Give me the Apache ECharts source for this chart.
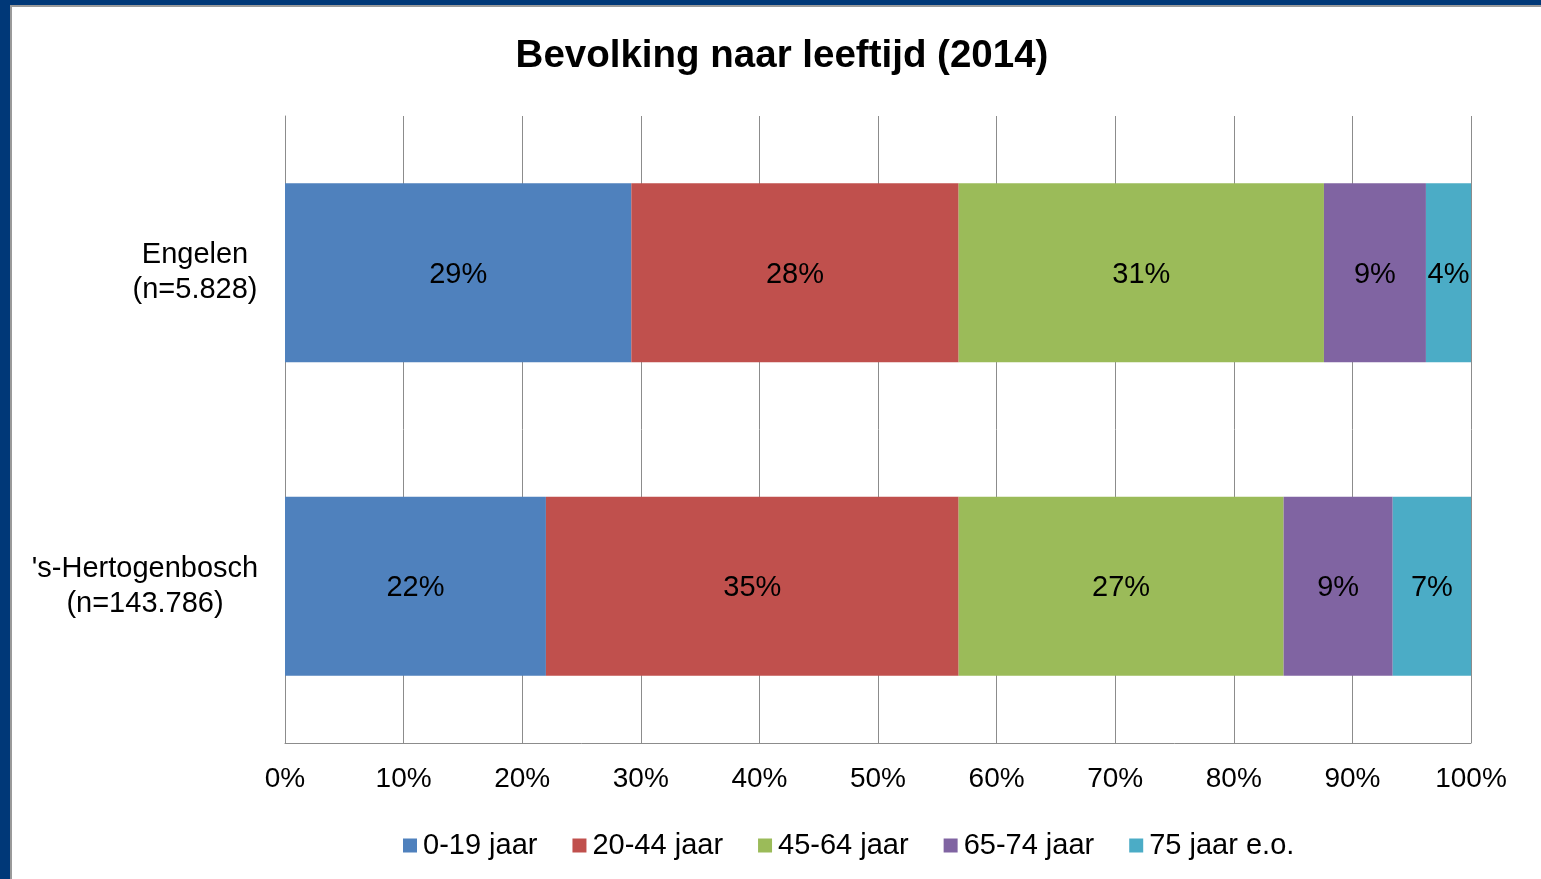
<!DOCTYPE html>
<html>
<head>
<meta charset="utf-8">
<script src="https://cdn.jsdelivr.net/npm/echarts@6/dist/echarts.min.js"></script>
<style>
html,body{margin:0;padding:0;background:#fff;overflow:hidden;}
#chart{position:absolute;left:0;top:0;width:1541px;height:879px;}
.bl{position:absolute;left:0;top:0;width:10px;height:879px;background:#003878;}
.bt{position:absolute;left:0;top:0;width:1541px;height:5px;background:#003878;}
.gl{position:absolute;left:10px;top:5px;width:2px;height:874px;background:#9a9a9a;}
.gt{position:absolute;left:10px;top:5px;width:1531px;height:2px;background:#9a9a9a;}
</style>
</head>
<body>
<div id="chart"></div>
<div class="bl"></div><div class="bt"></div><div class="gl"></div><div class="gt"></div>
<script>
const categories = ['Engelen\n(n=5.828)', "'s-Hertogenbosch\n(n=143.786)"];
const seriesNames = ['0-19 jaar', '20-44 jaar', '45-64 jaar', '65-74 jaar', '75 jaar e.o.'];
const v0_19 = [29.2, 22.0];
const v20_44 = [27.6, 34.8];
const v45_64 = [30.8, 27.4];
const v65_74 = [8.6, 9.2];
const v75 = [3.8, 6.6];
const xTicks = [0, 10, 20, 30, 40, 50, 60, 70, 80, 90, 100];
const colors = ['#4f81bd', '#c0504d', '#9bbb59', '#8064a2', '#4bacc6'];
const values = [v0_19, v20_44, v45_64, v65_74, v75];

const FONT = '"Liberation Sans", Arial, sans-serif';
const chart = echarts.init(document.getElementById('chart'));
chart.setOption({
  animation: false,
  title: {
    text: 'Bevolking naar leeftijd (2014)',
    left: 777,
    textAlign: 'center',
    top: 32,
    textStyle: { fontFamily: FONT, fontSize: 38.5, fontWeight: 'bold', color: '#000' }
  },
  legend: {
    data: seriesNames,
    bottom: 14,
    left: 398,
    icon: 'rect',
    itemWidth: 14,
    itemHeight: 14,
    itemGap: 35,
    textStyle: { fontFamily: FONT, fontSize: 29, color: '#000', padding: [0, 0, 0, 1] }
  },
  grid: { left: 285, right: 70, top: 116, bottom: 136, containLabel: false },
  xAxis: {
    type: 'value',
    min: 0, max: 100, interval: 10,
    axisLine: { show: true, lineStyle: { color: '#8c8c8c', width: 1 } },
    axisTick: { show: false },
    splitLine: { show: true, lineStyle: { color: '#8c8c8c', width: 1 } },
    axisLabel: {
      margin: 22,
      fontFamily: FONT, fontSize: 28, color: '#000',
      formatter: v => xTicks.includes(v) ? v + '%' : ''
    }
  },
  yAxis: {
    type: 'category',
    data: categories,
    inverse: true,
    axisLine: { show: true, lineStyle: { color: '#8c8c8c', width: 1 } },
    axisTick: { show: false },
    axisLabel: {
      margin: 27,
      fontFamily: FONT, fontSize: 29, color: '#000', lineHeight: 35,
      formatter: (v, i) => v.split('\n').map(s => '{c' + i + '|' + s + '}').join('\n'),
      rich: {
        c0: { width: 126, align: 'center', fontFamily: FONT, fontSize: 29, lineHeight: 35, color: '#000' },
        c1: { width: 226, align: 'center', fontFamily: FONT, fontSize: 29, lineHeight: 35, color: '#000' }
      }
    }
  },
  series: seriesNames.map((name, k) => ({
    name,
    type: 'bar',
    stack: 'total',
    barWidth: 179,
    data: values[k],
    itemStyle: { color: colors[k] },
    label: {
      show: true,
      position: 'inside',
      offset: [0, 2],
      fontFamily: FONT, fontSize: 29, color: '#000',
      formatter: p => Math.round(p.value) + '%'
    }
  }))
});
</script>
</body>
</html>
